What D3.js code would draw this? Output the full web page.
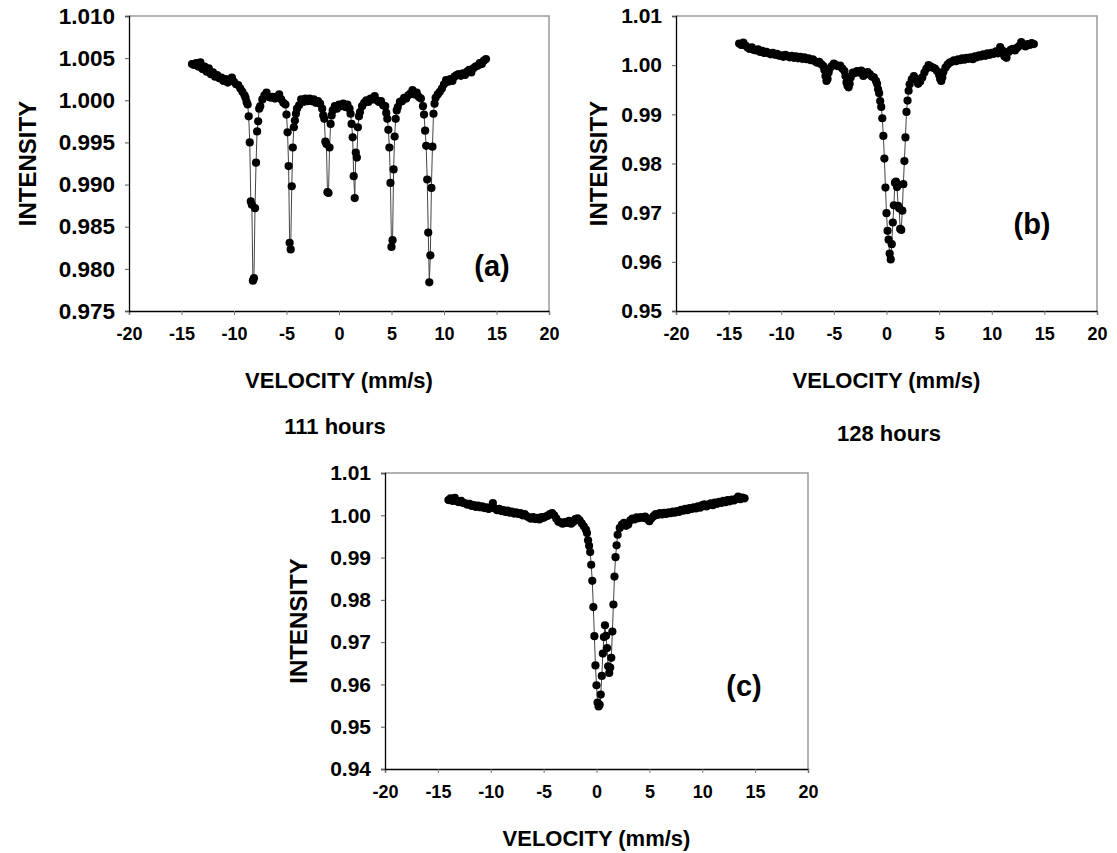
<!DOCTYPE html>
<html>
<head>
<meta charset="utf-8">
<script src="https://cdn.jsdelivr.net/npm/d3@7"></script>
<style>
  body { margin: 0; background: #fff; }
  svg text { font-family: "Liberation Sans", Arial, sans-serif; font-weight: bold; fill: #000; }
</style>
</head>
<body>
<svg id="chart" width="1117" height="853"></svg>
<script>
//------------------------------------------------------------------------------
// data read off the picture : [velocity mm/s, relative intensity]

const velocityTicks = [-20, -15, -10, -5, 0, 5, 10, 15, 20];
const intensityTicksA = [0.975, 0.980, 0.985, 0.990, 0.995, 1.000, 1.005, 1.010];
const intensityTicksB = [0.95, 0.96, 0.97, 0.98, 0.99, 1.00, 1.01];
const intensityTicksC = [0.94, 0.95, 0.96, 0.97, 0.98, 0.99, 1.00, 1.01];

const hourLabels = ['111 hours', '128 hours'];
const panelTags = ['(a)', '(b)', '(c)'];

/** (a) : sextet */
const spectrumA = [
  [-14.0, 1.0043], [-13.8, 1.0042], [-13.6, 1.0044], [-13.4, 1.0040], [-13.2, 1.0045],
  [-13.0, 1.0037], [-12.8, 1.0040], [-12.6, 1.0034], [-12.4, 1.0038], [-12.2, 1.0031],
  [-12.0, 1.0033], [-11.8, 1.0028], [-11.6, 1.0030], [-11.4, 1.0026], [-11.2, 1.0027],
  [-11.0, 1.0023], [-10.8, 1.0025], [-10.6, 1.0021], [-10.4, 1.0023], [-10.2, 1.0027],
  [-10.0, 1.0022], [-9.8, 1.0019], [-9.6, 1.0018], [-9.4, 1.0014], [-9.2, 1.0010],
  [-9.0, 1.0006], [-8.9, 1.0003], [-8.8, 0.9998], [-8.7, 0.9995], [-8.6, 0.9981],
  [-8.5, 0.9950], [-8.4, 0.9880], [-8.3, 0.9876], [-8.2, 0.9786], [-8.1, 0.9789],
  [-8.0, 0.9872], [-7.9, 0.9926], [-7.8, 0.9963], [-7.7, 0.9975], [-7.6, 0.9990],
  [-7.5, 0.9993], [-7.3, 1.0001], [-7.1, 1.0006], [-6.9, 1.0009], [-6.7, 1.0004],
  [-6.5, 1.0003], [-6.3, 1.0004], [-6.1, 1.0002], [-5.9, 1.0004], [-5.7, 1.0007],
  [-5.5, 1.0001], [-5.3, 0.9997], [-5.1, 0.9995], [-5.0, 0.9983], [-4.9, 0.9962],
  [-4.8, 0.9922], [-4.7, 0.9831], [-4.6, 0.9823], [-4.5, 0.9898], [-4.4, 0.9944],
  [-4.3, 0.9968], [-4.2, 0.9976], [-4.1, 0.9984], [-4.0, 0.9990], [-3.8, 0.9994],
  [-3.6, 1.0001], [-3.4, 0.9998], [-3.2, 1.0002], [-3.0, 0.9999], [-2.8, 1.0002],
  [-2.6, 0.9999], [-2.4, 1.0001], [-2.2, 0.9997], [-2.0, 0.9999], [-1.8, 0.9996],
  [-1.6, 0.9990], [-1.5, 0.9982], [-1.4, 0.9978], [-1.3, 0.9951], [-1.2, 0.9948],
  [-1.1, 0.9891], [-1.0, 0.9890], [-0.9, 0.9944], [-0.8, 0.9972], [-0.7, 0.9982],
  [-0.6, 0.9988], [-0.4, 0.9993], [-0.2, 0.9990], [0.0, 0.9995], [0.2, 0.9993],
  [0.4, 0.9996], [0.6, 0.9992], [0.8, 0.9995], [1.0, 0.9990], [1.1, 0.9984],
  [1.2, 0.9972], [1.3, 0.9956], [1.4, 0.9910], [1.5, 0.9884], [1.6, 0.9938],
  [1.7, 0.9932], [1.8, 0.9968], [1.9, 0.9981], [2.0, 0.9986], [2.2, 0.9993],
  [2.4, 0.9997], [2.6, 1.0000], [2.8, 0.9998], [3.0, 1.0002], [3.2, 1.0001],
  [3.4, 1.0005], [3.6, 1.0000], [3.8, 0.9998], [4.0, 0.9999], [4.2, 0.9994],
  [4.4, 0.9993], [4.5, 0.9985], [4.6, 0.9978], [4.7, 0.9965], [4.8, 0.9944],
  [4.9, 0.9902], [5.0, 0.9826], [5.1, 0.9834], [5.2, 0.9918], [5.3, 0.9957],
  [5.4, 0.9978], [5.5, 0.9988], [5.6, 0.9992], [5.8, 0.9998], [6.0, 0.9999],
  [6.2, 1.0003], [6.4, 1.0002], [6.6, 1.0006], [6.8, 1.0008], [7.0, 1.0012],
  [7.2, 1.0007], [7.4, 1.0009], [7.6, 1.0004], [7.8, 1.0002], [8.0, 0.9993],
  [8.1, 0.9983], [8.2, 0.9964], [8.3, 0.9946], [8.4, 0.9906], [8.5, 0.9843],
  [8.6, 0.9784], [8.7, 0.9816], [8.8, 0.9896], [8.9, 0.9945], [9.0, 0.9984],
  [9.1, 0.9996], [9.2, 1.0003], [9.4, 1.0007], [9.6, 1.0010], [9.8, 1.0014],
  [10.0, 1.0019], [10.2, 1.0024], [10.4, 1.0022], [10.6, 1.0025], [10.8, 1.0023],
  [11.0, 1.0028], [11.2, 1.0030], [11.4, 1.0031], [11.6, 1.0029], [11.8, 1.0032],
  [12.0, 1.0030], [12.2, 1.0034], [12.4, 1.0036], [12.6, 1.0033], [12.8, 1.0038],
  [13.0, 1.0040], [13.2, 1.0041], [13.4, 1.0044], [13.6, 1.0043], [13.8, 1.0047],
  [14.0, 1.0049],
];

/** (b) : 111 hours, doublet */
const spectrumB = [
  [-14.0, 1.0044], [-13.8, 1.0041], [-13.6, 1.0046], [-13.4, 1.0040], [-13.2, 1.0036],
  [-13.0, 1.0033], [-12.8, 1.0036], [-12.6, 1.0031], [-12.4, 1.0030], [-12.2, 1.0032],
  [-12.0, 1.0027], [-11.8, 1.0029], [-11.6, 1.0025], [-11.4, 1.0027], [-11.2, 1.0024],
  [-11.0, 1.0022], [-10.8, 1.0025], [-10.6, 1.0021], [-10.4, 1.0023], [-10.2, 1.0019],
  [-10.0, 1.0020], [-9.8, 1.0017], [-9.6, 1.0021], [-9.4, 1.0018], [-9.2, 1.0016],
  [-9.0, 1.0019], [-8.8, 1.0015], [-8.6, 1.0018], [-8.4, 1.0014], [-8.2, 1.0017],
  [-8.0, 1.0013], [-7.8, 1.0016], [-7.6, 1.0012], [-7.4, 1.0014], [-7.2, 1.0010],
  [-7.0, 1.0012], [-6.8, 1.0008], [-6.6, 1.0005], [-6.4, 1.0007], [-6.2, 1.0002],
  [-6.0, 0.9998], [-5.9, 0.9990], [-5.8, 0.9978], [-5.7, 0.9968], [-5.6, 0.9972],
  [-5.5, 0.9985], [-5.4, 0.9993], [-5.2, 0.9998], [-5.0, 1.0003], [-4.8, 1.0000],
  [-4.6, 0.9998], [-4.4, 0.9999], [-4.2, 0.9993], [-4.0, 0.9988], [-3.9, 0.9978],
  [-3.8, 0.9965], [-3.7, 0.9958], [-3.6, 0.9955], [-3.5, 0.9962], [-3.4, 0.9975],
  [-3.2, 0.9985], [-3.0, 0.9984], [-2.8, 0.9988], [-2.6, 0.9985], [-2.4, 0.9989],
  [-2.2, 0.9978], [-2.0, 0.9981], [-1.8, 0.9986], [-1.6, 0.9982], [-1.4, 0.9977],
  [-1.2, 0.9975], [-1.0, 0.9968], [-0.9, 0.9962], [-0.8, 0.9951], [-0.7, 0.9943],
  [-0.6, 0.9927], [-0.5, 0.9915], [-0.4, 0.9892], [-0.3, 0.9856], [-0.2, 0.9810],
  [-0.1, 0.9751], [0.0, 0.9699], [0.1, 0.9663], [0.2, 0.9645], [0.3, 0.9617],
  [0.4, 0.9605], [0.5, 0.9636], [0.6, 0.9680], [0.7, 0.9715], [0.8, 0.9761],
  [0.9, 0.9763], [1.0, 0.9752], [1.1, 0.9714], [1.2, 0.9709], [1.3, 0.9667],
  [1.4, 0.9665], [1.5, 0.9704], [1.6, 0.9758], [1.7, 0.9805], [1.8, 0.9853],
  [1.9, 0.9905], [2.0, 0.9928], [2.1, 0.9948], [2.2, 0.9961], [2.4, 0.9971],
  [2.6, 0.9978], [2.8, 0.9972], [3.0, 0.9962], [3.2, 0.9967], [3.4, 0.9975],
  [3.6, 0.9985], [3.8, 0.9993], [4.0, 1.0000], [4.2, 0.9997], [4.4, 0.9995],
  [4.6, 0.9993], [4.8, 0.9988], [5.0, 0.9980], [5.1, 0.9972], [5.2, 0.9968],
  [5.3, 0.9975], [5.4, 0.9986], [5.6, 0.9995], [5.8, 1.0001], [6.0, 1.0005],
  [6.2, 1.0007], [6.4, 1.0010], [6.6, 1.0008], [6.8, 1.0012], [7.0, 1.0010],
  [7.2, 1.0014], [7.4, 1.0011], [7.6, 1.0015], [7.8, 1.0013], [8.0, 1.0016],
  [8.2, 1.0012], [8.4, 1.0018], [8.6, 1.0016], [8.8, 1.0020], [9.0, 1.0018],
  [9.2, 1.0022], [9.4, 1.0019], [9.6, 1.0024], [9.8, 1.0021], [10.0, 1.0025],
  [10.2, 1.0023], [10.4, 1.0028], [10.6, 1.0024], [10.8, 1.0037], [11.0, 1.0030],
  [11.2, 1.0018], [11.4, 1.0015], [11.6, 1.0027], [11.8, 1.0031], [12.0, 1.0033],
  [12.2, 1.0030], [12.4, 1.0035], [12.6, 1.0039], [12.8, 1.0047], [13.0, 1.0041],
  [13.2, 1.0038], [13.4, 1.0043], [13.6, 1.0041], [13.8, 1.0045], [14.0, 1.0043],
];

/** (c) : 128 hours, doublet */
const spectrumC = [
  [-14.0, 1.0036], [-13.8, 1.0040], [-13.6, 1.0034], [-13.4, 1.0041], [-13.2, 1.0033],
  [-13.0, 1.0031], [-12.8, 1.0034], [-12.6, 1.0029], [-12.4, 1.0028], [-12.2, 1.0025],
  [-12.0, 1.0027], [-11.8, 1.0022], [-11.6, 1.0024], [-11.4, 1.0020], [-11.2, 1.0023],
  [-11.0, 1.0019], [-10.8, 1.0021], [-10.6, 1.0017], [-10.4, 1.0019], [-10.2, 1.0015],
  [-10.0, 1.0018], [-9.8, 1.0029], [-9.6, 1.0016], [-9.4, 1.0012], [-9.2, 1.0015],
  [-9.0, 1.0010], [-8.8, 1.0012], [-8.6, 1.0008], [-8.4, 1.0011], [-8.2, 1.0006],
  [-8.0, 1.0009], [-7.8, 1.0004], [-7.6, 1.0007], [-7.4, 1.0003], [-7.2, 1.0005],
  [-7.0, 1.0000], [-6.8, 1.0003], [-6.6, 0.9998], [-6.4, 0.9995], [-6.2, 0.9992],
  [-6.0, 0.9996], [-5.8, 0.9991], [-5.6, 0.9994], [-5.4, 0.9990], [-5.2, 0.9996],
  [-5.0, 0.9994], [-4.8, 0.9997], [-4.6, 0.9999], [-4.4, 1.0003], [-4.2, 1.0005],
  [-4.0, 1.0000], [-3.8, 0.9992], [-3.6, 0.9985], [-3.4, 0.9983], [-3.2, 0.9980],
  [-3.0, 0.9984], [-2.8, 0.9982], [-2.6, 0.9987], [-2.4, 0.9980], [-2.2, 0.9984],
  [-2.0, 0.9991], [-1.8, 0.9993], [-1.6, 0.9988], [-1.4, 0.9981], [-1.2, 0.9974],
  [-1.0, 0.9966], [-0.9, 0.9958], [-0.8, 0.9941], [-0.7, 0.9928], [-0.6, 0.9913],
  [-0.5, 0.9883], [-0.4, 0.9845], [-0.3, 0.9783], [-0.2, 0.9714], [-0.1, 0.9645],
  [0.0, 0.9598], [0.1, 0.9557], [0.2, 0.9548], [0.3, 0.9552], [0.4, 0.9576],
  [0.5, 0.9620], [0.6, 0.9673], [0.7, 0.9712], [0.8, 0.9740], [0.9, 0.9715],
  [1.0, 0.9686], [1.1, 0.9643], [1.2, 0.9627], [1.3, 0.9640], [1.4, 0.9663],
  [1.5, 0.9725], [1.6, 0.9789], [1.7, 0.9855], [1.8, 0.9901], [1.9, 0.9929],
  [2.0, 0.9954], [2.2, 0.9970], [2.4, 0.9978], [2.6, 0.9982], [2.8, 0.9975],
  [3.0, 0.9978], [3.2, 0.9988], [3.4, 0.9992], [3.6, 0.9990], [3.8, 0.9995],
  [4.0, 0.9993], [4.2, 0.9996], [4.4, 0.9994], [4.6, 0.9997], [4.8, 0.9991],
  [5.0, 0.9986], [5.2, 0.9993], [5.4, 0.9998], [5.6, 1.0003], [5.8, 1.0001],
  [6.0, 1.0005], [6.2, 1.0002], [6.4, 1.0006], [6.6, 1.0003], [6.8, 1.0007],
  [7.0, 1.0005], [7.2, 1.0009], [7.4, 1.0006], [7.6, 1.0010], [7.8, 1.0008],
  [8.0, 1.0013], [8.2, 1.0011], [8.4, 1.0015], [8.6, 1.0012], [8.8, 1.0017],
  [9.0, 1.0015], [9.2, 1.0019], [9.4, 1.0016], [9.6, 1.0021], [9.8, 1.0018],
  [10.0, 1.0024], [10.2, 1.0026], [10.4, 1.0021], [10.6, 1.0025], [10.8, 1.0028],
  [11.0, 1.0024], [11.2, 1.0030], [11.4, 1.0027], [11.6, 1.0032], [11.8, 1.0029],
  [12.0, 1.0034], [12.2, 1.0031], [12.4, 1.0036], [12.6, 1.0033], [12.8, 1.0037],
  [13.0, 1.0035], [13.2, 1.0039], [13.4, 1.0044], [13.6, 1.0038], [13.8, 1.0042],
  [14.0, 1.0040],
];

//------------------------------------------------------------------------------

const svg = d3.select('#chart');

/** plot frames, in px; titleDx is the offset of the INTENSITY title left of the axis */
const panels = [
  { data: spectrumA, yTicks: intensityTicksA, yFmt: d3.format('.3f'), tag: panelTags[0],
    x0: 129, x1: 549, y0: 16, y1: 311, tagX: 492, tagY: 266, titleDx: 102, yFont: 22.5 },
  { data: spectrumB, yTicks: intensityTicksB, yFmt: d3.format('.2f'), tag: panelTags[1],
    x0: 676, x1: 1097, y0: 16, y1: 311, tagX: 1032, tagY: 224, titleDx: 78, yFont: 21 },
  { data: spectrumC, yTicks: intensityTicksC, yFmt: d3.format('.2f'), tag: panelTags[2],
    x0: 385, x1: 808, y0: 473, y1: 769, tagX: 744, tagY: 686, titleDx: 87, yFont: 21 },
];

panels.forEach(drawPanel);

svg.append('text')
  .attr('x', 335).attr('y', 434)
  .attr('text-anchor', 'middle')
  .style('font-size', '22px')
  .text(hourLabels[0]);
svg.append('text')
  .attr('x', 889).attr('y', 441)
  .attr('text-anchor', 'middle')
  .style('font-size', '22px')
  .text(hourLabels[1]);

function drawPanel(p) {
  const
  yt = p.yTicks,
  x = d3.scaleLinear().domain([-20, 20]).range([p.x0, p.x1]),
  y = d3.scaleLinear().domain([yt[0], yt[yt.length - 1]]).range([p.y1, p.y0]),
  g = svg.append('g');

  // grey frame at top and right
  g.append('path')
    .attr('d', `M${p.x0},${p.y0}H${p.x1}V${p.y1}`)
    .attr('fill', 'none')
    .attr('stroke', '#9a9a9a')
    .attr('stroke-width', 1.5);

  const xAxis = g.append('g')
    .attr('transform', `translate(0,${p.y1})`)
    .call(d3.axisBottom(x).tickValues(velocityTicks).tickSize(4).tickPadding(12)
          .tickFormat(d => String(d)));
  xAxis.select('.domain').attr('stroke', '#000').attr('stroke-width', 1.3);
  xAxis.selectAll('.tick line').attr('stroke', '#777');
  xAxis.selectAll('.tick text').style('font-size', '18px').style('font-family', null);

  const yAxis = g.append('g')
    .attr('transform', `translate(${p.x0},0)`)
    .call(d3.axisLeft(y).tickValues(yt).tickSize(4).tickPadding(10).tickFormat(p.yFmt));
  yAxis.select('.domain').attr('stroke', '#000').attr('stroke-width', 1.3);
  yAxis.selectAll('.tick line').attr('stroke', '#555');
  yAxis.selectAll('.tick text').style('font-size', p.yFont + 'px').style('font-family', null);

  // fitted line through the spectrum
  g.append('path')
    .datum(p.data)
    .attr('d', d3.line().x(d => x(d[0])).y(d => y(d[1])))
    .attr('fill', 'none')
    .attr('stroke', '#444')
    .attr('stroke-width', 1);

  g.append('g')
    .selectAll('circle')
    .data(p.data)
    .join('circle')
    .attr('cx', d => x(d[0]))
    .attr('cy', d => y(d[1]))
    .attr('r', 4.1)
    .attr('fill', '#000');

  g.append('text')
    .attr('x', (p.x0 + p.x1) / 2)
    .attr('y', p.y1 + 77)
    .attr('text-anchor', 'middle')
    .style('font-size', '22px')
    .text('VELOCITY (mm/s)');

  g.append('text')
    .attr('transform', `translate(${p.x0 - p.titleDx},${(p.y0 + p.y1) / 2}) rotate(-90)`)
    .attr('text-anchor', 'middle')
    .attr('dy', '0.36em')
    .style('font-size', '24px')
    .text('INTENSITY');

  g.append('text')
    .attr('x', p.tagX)
    .attr('y', p.tagY)
    .attr('text-anchor', 'middle')
    .attr('dy', '0.36em')
    .style('font-size', '29px')
    .text(p.tag);
}
</script>
</body>
</html>
